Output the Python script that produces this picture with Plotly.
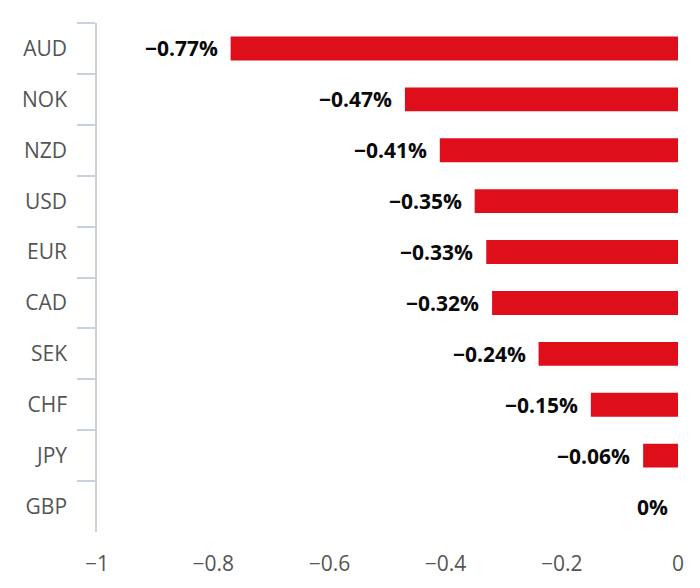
import plotly.graph_objects as go

currencies = ["AUD", "NOK", "NZD", "USD", "EUR", "CAD", "SEK", "CHF", "JPY", "GBP"]
changes = [-0.77, -0.47, -0.41, -0.35, -0.33, -0.32, -0.24, -0.15, -0.06, 0.0]
x_ticks = [-1, -0.8, -0.6, -0.4, -0.2, 0]

def fmt(v):
    if v == 0:
        return "0%"
    s = f"{v:.2f}%"
    return s.replace("-", "\u2212")

labels = [fmt(v) for v in changes]

FONT = "Open Sans"

fig = go.Figure()
fig.add_trace(go.Bar(
    x=changes, y=currencies, orientation="h",
    marker=dict(color="#DE0F1A", line=dict(width=0)),
    width=0.47, hoverinfo="skip",
))

for c, v, t in zip(currencies, changes, labels):
    fig.add_annotation(x=v, y=c, text=t, showarrow=False, xanchor="right",
                       xshift=-8 if v == 0 else -11,
                       font=dict(family=FONT, size=21, color="#0A0A0A", weight="bold"))

fig.update_layout(
    width=700, height=588,
    margin=dict(l=89, r=30, t=15, b=64),
    paper_bgcolor="white", plot_bgcolor="white",
    showlegend=False,
    font=dict(family=FONT, size=21, color="#555555"),
    xaxis=dict(range=[-1, 0], tickvals=x_ticks, showgrid=False, zeroline=False,
               showline=False, ticks="", ticklabelstandoff=17,
               tickfont=dict(family=FONT, size=21, color="#555555")),
    yaxis=dict(categoryorder="array", categoryarray=currencies, autorange="reversed",
               showgrid=False, zeroline=False, showline=True, linecolor="#C9D1DC", linewidth=1.5,
               ticks="outside", tickson="boundaries", ticklen=18, tickcolor="#C9D1DC", tickwidth=1.5,
               ticklabelstandoff=24, tickfont=dict(family=FONT, size=21, color="#555555")),
)

fig.write_html("out.html")
